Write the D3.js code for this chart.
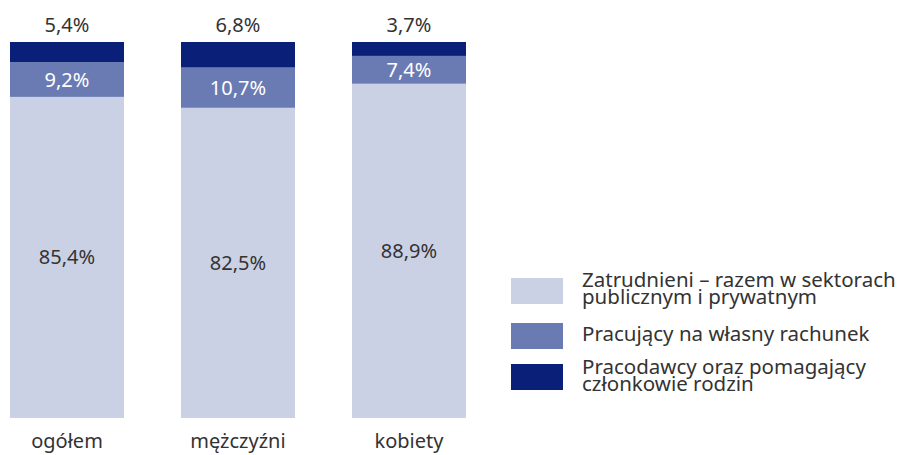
<!DOCTYPE html>
<html>
<head>
<meta charset="utf-8">
<script src="https://cdn.jsdelivr.net/npm/d3@7"></script>
<style>
  body { margin: 0; background: #fff; }
  text { font-family: "Noto Sans", sans-serif; }
</style>
</head>
<body>
<div id="chart"></div>
<script>
// Data
const categories = ["ogółem", "mężczyźni", "kobiety"];
const seriesNames = [
  ["Zatrudnieni – razem w sektorach", "publicznym i prywatnym"],
  ["Pracujący na własny rachunek"],
  ["Pracodawcy oraz pomagający", "członkowie rodzin"]
];
const employed = [85.4, 82.5, 88.9];
const selfEmployed = [9.2, 10.7, 7.4];
const employers = [5.4, 6.8, 3.7];
const colors = ["#cbd1e4", "#6a7bb3", "#0a1f78"];

const width = 898, height = 455;
const svg = d3.select("#chart").append("svg")
  .attr("width", width)
  .attr("height", height);

const rows = categories.map((c, i) => ({
  cat: c, s0: employed[i], s1: selfEmployed[i], s2: employers[i]
}));
const stack = d3.stack().keys(["s0", "s1", "s2"]);
const layers = stack(rows);

const x = d3.scaleBand().domain(categories).range([10, 466]).paddingInner(1 / 3).paddingOuter(0);
const y = d3.scaleLinear().domain([0, 100]).range([418, 42]);
const fmt = v => v.toFixed(1).replace(".", ",") + "%";

// Bars
const g = svg.selectAll("g.layer")
  .data(layers)
  .enter().append("g")
  .attr("class", "layer")
  .attr("fill", (d, i) => colors[i]);

g.selectAll("rect")
  .data(d => d)
  .enter().append("rect")
  .attr("x", d => x(d.data.cat))
  .attr("width", x.bandwidth())
  .attr("y", d => y(d[1]))
  .attr("height", d => y(d[0]) - y(d[1]));

// Value labels
layers.forEach((layer, li) => {
  svg.selectAll("text.v" + li)
    .data(layer)
    .enter().append("text")
    .attr("class", "v" + li)
    .attr("x", d => x(d.data.cat) + x.bandwidth() / 2)
    .attr("y", d => li === 2 ? y(d[1]) - 10 : (y(d[0]) + y(d[1])) / 2 + 7)
    .attr("text-anchor", "middle")
    .attr("font-size", 20)
    .attr("fill", li === 1 ? "#fff" : "#333")
    .text(d => fmt(d[1] - d[0]));
});

// Category axis
const xAxis = svg.append("g")
  .attr("transform", "translate(0,418)")
  .call(d3.axisBottom(x).tickSize(0).tickPadding(16));
xAxis.select(".domain").remove();
xAxis.selectAll("text")
  .attr("font-size", 20)
  .attr("fill", "#333")
  .attr("font-family", "Noto Sans, sans-serif");

// Legend
const legendY = [278, 323, 364];
const textOffset = [9, 18, 10];
const legend = svg.selectAll("g.legend")
  .data(seriesNames)
  .enter().append("g")
  .attr("class", "legend")
  .attr("transform", (d, i) => `translate(511,${legendY[i]})`);

legend.append("rect")
  .attr("width", 52)
  .attr("height", 26)
  .attr("fill", (d, i) => colors[i]);

legend.append("text")
  .attr("x", 71)
  .attr("y", (d, i) => textOffset[i])
  .attr("font-size", 20.5)
  .attr("fill", "#333")
  .selectAll("tspan")
  .data(d => d)
  .enter().append("tspan")
  .attr("x", 71)
  .attr("dy", (d, i) => i === 0 ? 0 : 16.5)
  .text(d => d);
</script>
</body>
</html>
